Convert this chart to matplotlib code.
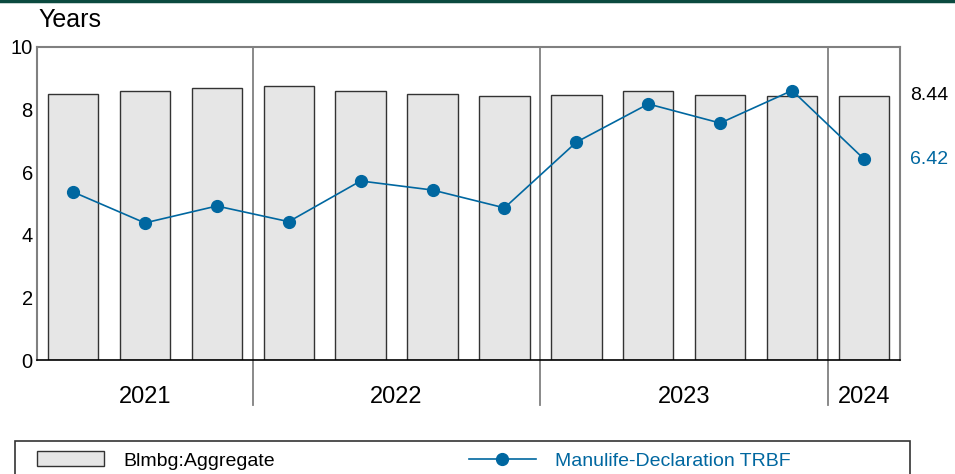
import matplotlib.pyplot as plt
from matplotlib.lines import Line2D
from matplotlib.patches import Rectangle, Patch

plt.rcParams['font.family'] = ['Liberation Sans', 'DejaVu Sans']

# data (quarterly)
years = ['2021'] * 3 + ['2022'] * 4 + ['2023'] * 4 + ['2024']
aggregate = [8.51, 8.61, 8.69, 8.74, 8.61, 8.51, 8.42, 8.48, 8.58, 8.48, 8.45, 8.44]
trbf = [5.37, 4.38, 4.92, 4.42, 5.72, 5.43, 4.86, 6.96, 8.18, 7.57, 8.61, 6.42]
bar_name = 'Blmbg:Aggregate'
line_name = 'Manulife-Declaration TRBF'

BLUE = '#0067a0'
GRAY = '#808080'

fig = plt.figure(figsize=(9.55, 4.74), dpi=100)
ax = fig.add_axes([37 / 955, 1 - 360 / 474, 863 / 955, 313 / 474])

x = list(range(len(aggregate)))
ax.bar(x, aggregate, width=0.7, color='#e6e6e6', edgecolor='#333333', linewidth=1.0, zorder=2)
ax.plot(x, trbf, color=BLUE, linewidth=1.2, marker='o', markersize=8.5, zorder=3)

ax.set_xlim(-0.5, len(x) - 0.5)
ax.set_ylim(0, 10)
ax.set_yticks([0, 2, 4, 6, 8, 10])
ax.set_xticks([])
ax.tick_params(axis='y', length=0, pad=3, labelsize=14.5)
for s in ['left', 'top', 'right']:
    ax.spines[s].set_color(GRAY)
    ax.spines[s].set_linewidth(1.5)
ax.spines['bottom'].set_color('black')
ax.spines['bottom'].set_linewidth(1.2)

# year groups: separators and labels
groups = []
for i, y in enumerate(years):
    if not groups or groups[-1][0] != y:
        groups.append([y, i, i])
    else:
        groups[-1][2] = i
for k, (y, i0, i1) in enumerate(groups):
    ax.text((i0 + i1) / 2, -1.18, y, ha='center', va='center', fontsize=17)
    if k < len(groups) - 1:
        ax.plot([i1 + 0.5, i1 + 0.5], [-1.44, 10], color=GRAY, linewidth=1.3,
                clip_on=False, zorder=1)

# last values on the right
ax.annotate('%.2f' % aggregate[-1], (len(x) - 0.5, aggregate[-1]), xytext=(7, 0),
            textcoords='offset points', va='center', ha='left', fontsize=14,
            color='black', annotation_clip=False)
ax.annotate('%.2f' % trbf[-1], (len(x) - 0.5, trbf[-1]), xytext=(7, 0),
            textcoords='offset points', va='center', ha='left', fontsize=14,
            color=BLUE, annotation_clip=False)

fig.text(38 / 955, 1 - 20 / 474, 'Years', fontsize=18, va='center', ha='left')

# dark line at the very top
fig.add_artist(Line2D([0, 1], [1 - 1 / 474, 1 - 1 / 474], color='#0b4a3f',
                      linewidth=2.5, transform=fig.transFigure))

# legend frame + legend
fig.add_artist(Rectangle((15 / 955, -0.05), 895 / 955, 0.05 + 1 - 441 / 474,
                         transform=fig.transFigure, fill=False,
                         edgecolor='#333333', linewidth=1.2))
handles = [Patch(facecolor='#e6e6e6', edgecolor='#333333', linewidth=1.0),
           Line2D([], [], color=BLUE, linewidth=1.2, marker='o', markersize=8.5)]
leg = fig.legend(handles, [bar_name, line_name], loc='center left',
                 bbox_to_anchor=(37 / 955, 1 - 460.5 / 474), ncol=2, frameon=False,
                 fontsize=14, handlelength=3.45, handleheight=0.8,
                 handletextpad=1.0, columnspacing=9.95, borderpad=0, borderaxespad=0)
leg.get_texts()[1].set_color(BLUE)

plt.savefig('out.png', dpi=100)
